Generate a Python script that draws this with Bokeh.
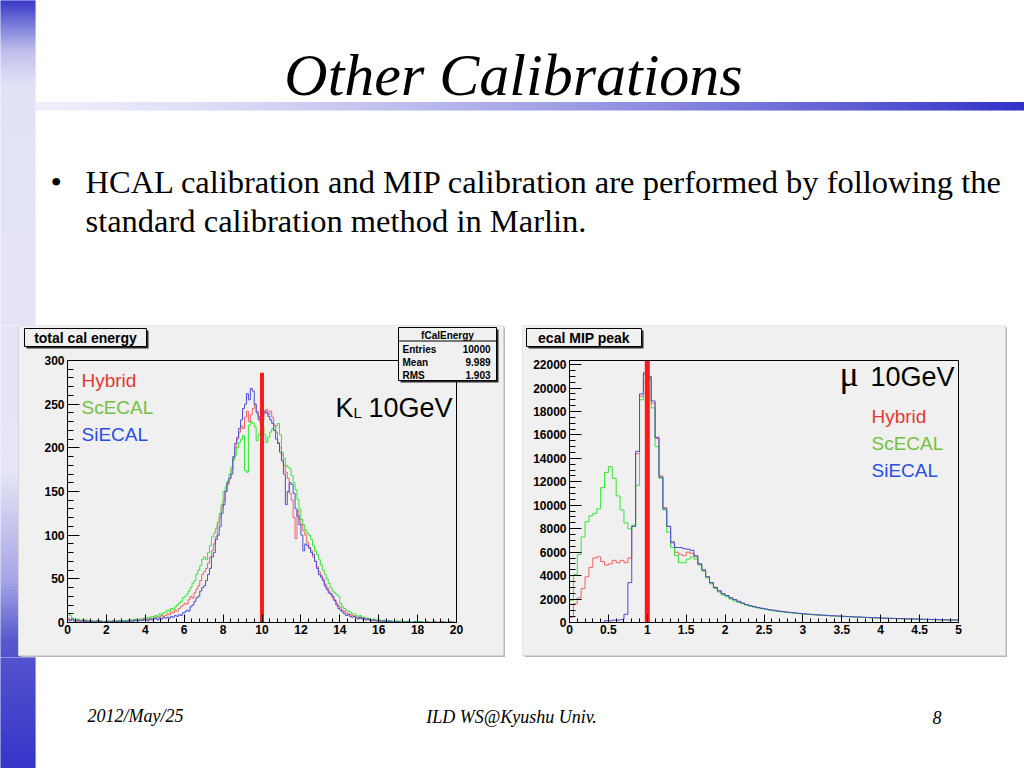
import numpy as np
from bokeh.plotting import figure
from bokeh.layouts import column, row
from bokeh.models import Range1d, SingleIntervalTicker, Spacer
from bokeh.core.properties import value
from bokeh.embed import file_html
from bokeh.resources import INLINE

# ---------------- data ----------------
SERIES = ["Hybrid", "ScECAL", "SiECAL"]

# total cal energy, K_L 10 GeV : 200 bins of 0.1 GeV from 0 to 20
KL_HYBRID = [
    5, 3, 4, 2, 3, 2, 1, 2, 3, 1,
    2, 1, 1, 2, 0, 1, 2, 1, 1, 0,
    1, 2, 1, 1, 0, 2, 1, 1, 2, 1,
    2, 1, 3, 2, 2, 3, 2, 3, 4, 3,
    4, 3, 5, 4, 6, 5, 7, 6, 8, 7,
    8, 10, 9, 12, 11, 14, 13, 16, 18, 20,
    22, 21, 26, 30, 28, 34, 38, 42, 48, 55,
    58, 62, 68, 75, 82, 90, 98, 112, 120, 132,
    140, 150, 158, 165, 175, 188, 200, 210, 218, 225,
    222, 235, 242, 230, 238, 245, 250, 242, 236, 228,
    232, 240, 244, 238, 242, 235, 226, 218, 206, 200,
    192, 180, 172, 165, 148, 140, 120, 96, 128, 118,
    112, 105, 100, 92, 86, 82, 75, 70, 64, 58,
    54, 50, 44, 40, 36, 32, 28, 26, 22, 19,
    17, 14, 13, 11, 10, 9, 8, 7, 6, 6,
    5, 6, 4, 4, 3, 3, 2, 3, 2, 2,
    2, 1, 2, 1, 1, 1, 2, 1, 0, 1,
    1, 0, 1, 1, 0, 1, 0, 0, 1, 0,
    0, 1, 0, 0, 0, 1, 0, 0, 0, 1,
    0, 0, 0, 1, 0, 0, 0, 0, 1, 0,
]
KL_SCECAL = [
    10, 8, 5, 4, 3, 4, 2, 3, 2, 3,
    2, 1, 2, 1, 1, 2, 1, 2, 1, 1,
    2, 1, 1, 2, 1, 2, 1, 2, 2, 1,
    2, 3, 2, 3, 2, 4, 3, 4, 3, 5,
    4, 6, 5, 7, 6, 8, 7, 10, 9, 11,
    12, 14, 13, 16, 15, 18, 20, 22, 24, 28,
    30, 32, 36, 40, 45, 48, 55, 60, 65, 72,
    75, 72, 80, 88, 98, 102, 108, 115, 125, 135,
    150, 155, 162, 170, 178, 186, 192, 200, 206, 210,
    214, 174, 172, 226, 230, 228, 224, 208, 215, 218,
    225, 215, 206, 212, 218, 222, 220, 225, 228, 215,
    195, 188, 180, 178, 176, 168, 160, 152, 141, 130,
    118, 112, 106, 102, 100, 95, 88, 82, 78, 72,
    66, 60, 55, 50, 45, 40, 36, 34, 32, 30,
    22, 18, 16, 14, 13, 12, 10, 10, 8, 7,
    8, 6, 6, 5, 5, 4, 3, 4, 3, 3,
    3, 2, 2, 3, 2, 1, 2, 1, 1, 2,
    1, 2, 1, 1, 0, 1, 1, 0, 1, 1,
    1, 0, 1, 0, 1, 0, 0, 1, 0, 0,
    0, 1, 0, 0, 1, 0, 0, 1, 0, 0,
]
KL_SIECAL = [
    3, 2, 4, 2, 1, 3, 2, 2, 1, 2,
    1, 2, 1, 0, 1, 2, 1, 1, 0, 1,
    1, 0, 1, 2, 1, 1, 2, 1, 1, 2,
    1, 2, 2, 1, 3, 2, 2, 3, 2, 4,
    3, 2, 4, 3, 4, 5, 3, 5, 4, 6,
    5, 6, 5, 7, 6, 8, 7, 9, 8, 11,
    12, 14, 13, 18, 20, 24, 28, 30, 36, 40,
    42, 48, 55, 62, 75, 80, 95, 100, 110, 125,
    135, 150, 160, 165, 170, 190, 205, 212, 222, 232,
    245, 250, 262, 255, 268, 265, 250, 240, 232, 236,
    238, 242, 240, 236, 232, 228, 220, 210, 205, 195,
    185, 170, 135, 150, 160, 158, 148, 130, 122, 112,
    100, 82, 90, 88, 85, 80, 78, 70, 62, 55,
    52, 48, 42, 38, 34, 33, 30, 25, 20, 16,
    14, 12, 10, 8, 9, 7, 6, 7, 5, 4,
    6, 4, 5, 3, 4, 3, 2, 3, 2, 2,
    2, 1, 2, 1, 1, 2, 1, 0, 1, 1,
    1, 0, 1, 0, 1, 1, 0, 0, 1, 0,
    0, 1, 0, 0, 1, 0, 0, 0, 1, 0,
    0, 0, 1, 0, 0, 0, 1, 0, 0, 0,
]

# ecal MIP peak, mu 10 GeV : 100 bins of 0.05 MIP from 0 to 5
MIP_HYBRID = [
    450, 1600, 2100, 2900, 3900, 4700, 5500, 5600, 5200, 4900,
    5000, 5300, 5100, 5300, 5100, 5500, 8200, 14400, 19300, 21200,
    20800, 18700, 15700, 12500, 9800, 8200, 6900, 6000, 5800, 5700,
    6000, 5900, 5600, 5000, 4400, 3900, 3400, 3000, 2700, 2450,
    2300, 2100, 1950, 1800, 1650, 1520, 1420, 1340, 1270, 1200,
    1140, 1080, 1030, 980, 940, 900, 860, 830, 790, 760,
    730, 700, 680, 650, 630, 610, 590, 570, 555, 540,
    520, 500, 490, 470, 460, 440, 430, 410, 400, 390,
    370, 360, 350, 340, 330, 320, 310, 300, 290, 280,
    270, 265, 255, 250, 240, 235, 225, 220, 215, 205,
]
MIP_SCECAL = [
    1900, 4100, 5800, 7300, 8600, 9100, 9300, 9700, 11500, 12800,
    13300, 12300, 10800, 9600, 8500, 8000, 8300, 11700, 19000, 20500,
    20900, 18300, 15000, 12300, 9600, 7700, 6400, 5700, 5100, 5100,
    5400, 5600, 5400, 4900, 4400, 3800, 3300, 2900, 2600, 2350,
    2200, 2000, 1850, 1720, 1600, 1480, 1390, 1310, 1240, 1170,
    1110, 1050, 1000, 950, 910, 870, 840, 800, 770, 740,
    710, 690, 660, 640, 620, 600, 580, 560, 545, 530,
    510, 495, 480, 465, 450, 435, 420, 405, 395, 380,
    365, 355, 345, 335, 325, 315, 305, 295, 285, 275,
    265, 255, 250, 240, 235, 225, 220, 215, 205, 200,
]
MIP_SIECAL = [
    0, 0, 0, 0, 0, 0, 0, 0, 0, 150,
    150, 200, 200, 250, 700, 3400, 8200, 14600, 19500, 21300,
    21000, 18900, 15800, 12400, 9700, 8200, 6800, 6400, 6400, 6300,
    6250, 6150, 5700, 5000, 4500, 3900, 3400, 3000, 2700, 2450,
    2300, 2100, 1950, 1800, 1660, 1540, 1440, 1360, 1280, 1210,
    1150, 1090, 1040, 990, 950, 910, 870, 840, 800, 770,
    740, 710, 690, 660, 640, 620, 600, 580, 565, 550,
    530, 510, 495, 480, 465, 450, 435, 420, 410, 395,
    380, 370, 360, 350, 340, 330, 320, 310, 300, 290,
    280, 270, 265, 255, 250, 240, 235, 225, 220, 215,
]

KL_RANGE = (0, 20, 200)
KL_YMAX = 300
MIP_RANGE = (0, 5, 100)
MIP_YMAX = 22350
KL_MARK = (10, 286)
MIP_MARK = 1
STATS_TITLE = "fCalEnergy"
STATS = [("Entries", "10000"), ("Mean", "9.989"), ("RMS", "1.903")]

# ---------------- style ----------------
PANEL = "#f0f0f0"
SHADOW = "#2a2a2a"
LINE_COLORS = ["#f26262", "#33e833", "#4b4bd6"]
TEXT_COLORS = ["#e03a32", "#74c043", "#2a4fe0"]
MARK_COLOR = "#ff1a1a"
SANS = "Liberation Sans"
SERIF = "Liberation Serif"
BASE_SHIFT = 0.35   # text drawn with alphabetic baseline lands ~0.35em low

STRIP_STOPS = [(0, (56, 56, 200)), (20, (110, 110, 215)), (50, (190, 190, 236)),
               (85, (226, 226, 246)), (470, (230, 230, 246)), (580, (165, 165, 230)),
               (640, (88, 88, 206)), (770, (52, 52, 200))]


def mix(stops, y):
    for (y0, ca), (y1, cb) in zip(stops[:-1], stops[1:]):
        if y0 <= y <= y1:
            t = (y - y0) / (y1 - y0)
            c = [int(round(a + (b - a) * t)) for a, b in zip(ca, cb)]
            return "#%02x%02x%02x" % tuple(c)
    c = stops[-1][1] if y > stops[-1][0] else stops[0][1]
    return "#%02x%02x%02x" % tuple(c)


def blank(width, height, x0, x1, y0, y1, bg="white"):
    """figure whose data space is page pixels (y downward)"""
    f = figure(width=width, height=height, x_range=Range1d(x0, x1), y_range=Range1d(y1, y0),
               x_axis_type=None, y_axis_type=None, output_backend="svg",
               toolbar_location=None, min_border=0, min_border_left=0, min_border_right=0,
               min_border_top=0, min_border_bottom=0)
    f.outline_line_color = None
    f.background_fill_color = bg
    f.border_fill_color = bg
    return f


def strip_quads(y0, y1):
    ys = np.arange(y0, y1, 3.0)
    return ys, [mix(STRIP_STOPS, y + 1.5) for y in ys]


def draw_strip(f, y0, y1):
    ys, cols = strip_quads(y0, y1)
    f.quad(left=-2, right=35, top=ys, bottom=ys + 4.0, fill_color=cols, line_color=None)


def txt(f, x, y, s, size, font=SERIF, style="normal", color="black", align="left"):
    f.text(x=[x], y=[y], text=[s], text_font=value(font), text_font_size=value("%gpx" % size),
           text_font_style=style, text_color=color, text_align=align,
           text_baseline="alphabetic")


def ptxt(f, px, py, s, size, **kw):
    """text in page-pixel figure, py = wanted baseline"""
    txt(f, px, py - BASE_SHIFT * size, s, size, **kw)


# ---------------- top of slide ----------------
top = blank(1024, 325, 0, 1024, 0, 325)
draw_strip(top, -3, 326)
bx = np.arange(35, 1024, 4.0)
bar_cols = []
for x in bx:
    t = ((x - 35) / (1024 - 35)) ** 1.35
    c = [int(round(a + (b - a) * t)) for a, b in zip((238, 238, 251), (50, 50, 200))]
    bar_cols.append("#%02x%02x%02x" % tuple(c))
top.quad(left=bx, right=bx + 4.5, top=101.5, bottom=110, fill_color=bar_cols, line_color=None)
ptxt(top, 513, 95, "Other Calibrations", 60, style="italic", align="center")
ptxt(top, 50, 193, "\u2022", 32.5)
ptxt(top, 85, 193, "HCAL calibration and MIP calibration are performed by following the", 32.5)
ptxt(top, 85, 232, "standard calibration method in Marlin.", 32.5)

# ---------------- bottom of slide ----------------
bot = blank(1024, 111, 0, 1024, 657, 768)
draw_strip(bot, 654, 770)
ptxt(bot, 87, 722, "2012/May/25", 18, style="italic")
ptxt(bot, 511, 723, "ILD WS@Kyushu Univ.", 18, style="italic", align="center")
ptxt(bot, 932, 723, "8", 18, style="italic")


# ---------------- histogram panels ----------------
# each panel is one figure whose frame fills its whole slot; the axes are fixed
# at 0 inside it, so boxes and labels can be drawn anywhere in the grey panel.
class Panel:
    def __init__(self, cx0, cx1, px0, px1, fx0, fx1, fy_top, fy_bot, xmax, ymax):
        self.fx0, self.fy_bot = fx0, fy_bot
        self.sx = (fx1 - fx0) / xmax
        self.sy = (fy_bot - fy_top) / ymax
        x0, y0 = self.c(cx0, 657)
        x1, y1 = self.c(cx1, 325)
        self.f = f = figure(width=cx1 - cx0, height=332, x_range=Range1d(x0, x1),
                            y_range=Range1d(y0, y1), output_backend="svg",
                            toolbar_location=None, min_border=0, min_border_left=0,
                            min_border_right=0, min_border_top=0, min_border_bottom=0)
        f.background_fill_color = "white"
        f.border_fill_color = "white"
        f.outline_line_color = None
        f.grid.visible = False
        f.xaxis[0].fixed_location = 0
        f.yaxis[0].fixed_location = 0
        f.xaxis[0].bounds = (0, xmax)
        f.yaxis[0].bounds = (0, ymax)
        for ax in (f.xaxis[0], f.yaxis[0]):
            ax.axis_line_color = "black"
            ax.major_tick_line_color = "black"
            ax.minor_tick_line_color = "black"
            ax.major_tick_out = 0
            ax.minor_tick_out = 0
            ax.major_label_text_font = SANS
            ax.major_label_text_font_style = "bold"
            ax.major_label_text_font_size = "12px"
            ax.major_label_text_color = "black"
        f.xaxis[0].major_tick_in = 8
        f.xaxis[0].minor_tick_in = 4
        f.xaxis[0].major_label_standoff = 2
        f.yaxis[0].major_tick_in = 12
        f.yaxis[0].minor_tick_in = 6
        f.yaxis[0].major_label_standoff = 3
        self.xmax, self.ymax = xmax, ymax
        if cx0 < 35:
            ys, cols = strip_quads(322, 660)
            xa, _ = self.c(-2, 0)
            xb, _ = self.c(35, 0)
            f.quad(left=xa, right=xb, top=[self.c(0, y)[1] for y in ys],
                   bottom=[self.c(0, y + 4.0)[1] for y in ys], fill_color=cols, line_color=None)
        # panel body with light edge and shadow
        self.box(px0 + 2, px1, 327, 657, "#b8b8b8")
        self.box(px0, px1 - 2, 325, 655, PANEL, "#d4d4d4")

    def c(self, px, py):
        return (px - self.fx0) / self.sx, (self.fy_bot - py) / self.sy

    def frame_box(self):
        self.f.line(x=[0, self.xmax, self.xmax], y=[self.ymax, self.ymax, 0],
                    line_color="black", line_width=1)

    def hist(self, lo, hi, n, vals, color):
        edges = list(np.linspace(lo, hi, n + 1))
        xs = [edges[0]] + edges
        ys = [0] + list(vals) + [vals[-1]]
        self.f.step(x=xs, y=ys, mode="after", line_color=color, line_width=1)

    def t(self, px, py, s, size, **kw):
        x, y = self.c(px, py - BASE_SHIFT * size)
        txt(self.f, x, y, s, size, **kw)

    def box(self, px0, px1, py0, py1, fill, line=None):
        x0, y0 = self.c(px0, py0)
        x1, y1 = self.c(px1, py1)
        self.f.quad(left=x0, right=x1, top=y0, bottom=y1, fill_color=fill,
                    line_color=line, line_width=1)

    def title_box(self, px0, px1, s):
        self.box(px0 + 2, px1 + 2, 330, 348, SHADOW)
        self.box(px0, px1, 328, 346, PANEL, "black")
        self.t((px0 + px1) / 2, 342, s, 14, font=SANS, style="bold", align="center")


# ---- left panel (slot x 0-505, panel x 18-505, frame x 67-456, y 360-622)
P1 = Panel(0, 505, 18, 505, 67, 456, 360, 622, KL_RANGE[1], KL_YMAX)
p1 = P1.f
p1.xaxis[0].ticker = SingleIntervalTicker(interval=2, num_minor_ticks=5)
p1.yaxis[0].ticker = SingleIntervalTicker(interval=50, num_minor_ticks=5)
for vals, col in zip([KL_HYBRID, KL_SCECAL, KL_SIECAL], LINE_COLORS):
    P1.hist(KL_RANGE[0], KL_RANGE[1], KL_RANGE[2], vals, col)
p1.line(x=[KL_MARK[0], KL_MARK[0]], y=[0, KL_MARK[1]], line_color=MARK_COLOR, line_width=4)
P1.frame_box()

for i, (s, col) in enumerate(zip(SERIES, TEXT_COLORS)):
    P1.t(81, 387 + 27 * i, s, 19, font=SANS, color=col)
P1.t(335, 417, "K", 27, font=SANS)
P1.t(353, 417, "L", 15, font=SANS)
P1.t(368, 417, "10GeV", 27, font=SANS)

P1.title_box(24, 146, "total cal energy")
P1.box(400, 498, 329, 382, SHADOW)
P1.box(398, 496, 327, 380, PANEL, "black")
sx0, sy = P1.c(398, 340.5)
sx1, _ = P1.c(496, 340.5)
p1.line(x=[sx0, sx1], y=[sy, sy], line_color="black", line_width=1)
P1.t(447, 338, STATS_TITLE, 10, font=SANS, style="bold", align="center")
for i, (k, v) in enumerate(STATS):
    P1.t(402, 352 + 13 * i, k, 10, font=SANS, style="bold")
    P1.t(490, 352 + 13 * i, v, 10, font=SANS, style="bold", align="right")

# ---- right panel (slot x 522-1007, frame x 569-958, y 360-622)
P2 = Panel(522, 1007, 522, 1007, 569, 958, 360, 622, MIP_RANGE[1], MIP_YMAX)
p2 = P2.f
p2.xaxis[0].ticker = SingleIntervalTicker(interval=0.5, num_minor_ticks=5)
p2.yaxis[0].ticker = SingleIntervalTicker(interval=2000, num_minor_ticks=4)
ov = {}
for k in range(11):
    tv = k * 0.5
    key = int(tv) if tv == int(tv) else tv
    ov[key] = ("%g" % tv)
p2.xaxis[0].major_label_overrides = ov

for vals, col in zip([MIP_HYBRID, MIP_SCECAL, MIP_SIECAL], LINE_COLORS):
    P2.hist(MIP_RANGE[0], MIP_RANGE[1], MIP_RANGE[2], vals, col)
p2.line(x=[MIP_MARK, MIP_MARK], y=[0, MIP_YMAX], line_color=MARK_COLOR, line_width=5)
P2.frame_box()

P2.t(839, 386, "\u03bc", 36, font=SERIF)
P2.t(870, 386, "10GeV", 27, font=SANS)
for i, (s, col) in enumerate(zip(SERIES, TEXT_COLORS)):
    P2.t(871, 423 + 27 * i, s, 19, font=SANS, color=col)
P2.title_box(526, 641, "ecal MIP peak")

mid = row(p1, Spacer(width=17, height=332), p2, Spacer(width=17, height=332))
layout = column(top, mid, bot)

open("out.html", "w").write(file_html(layout, INLINE))
